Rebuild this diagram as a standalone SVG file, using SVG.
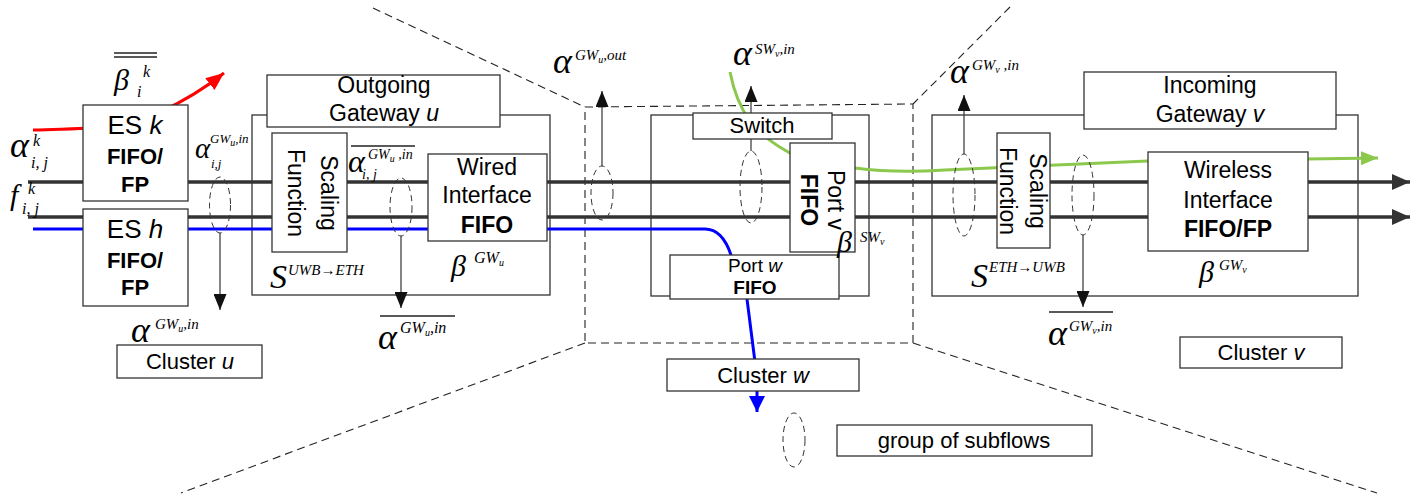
<svg xmlns="http://www.w3.org/2000/svg" width="1428" height="498" viewBox="0 0 1428 498">
<style>
.bg{fill:#fff}
.box{fill:#fff;stroke:#333;stroke-width:1.3}
.obox{fill:none;stroke:#333;stroke-width:1.3}
.region{fill:none;stroke:#222;stroke-width:1.1;stroke-dasharray:8,5}
.ell{fill:none;stroke:#333;stroke-width:1;stroke-dasharray:6,4}
.flow{fill:none;stroke:#333;stroke-width:3.5}
.blue{fill:none;stroke:#0000ff;stroke-width:3}
.green{fill:none;stroke:#8cc84b;stroke-width:3}
.red{fill:none;stroke:#ff0000;stroke-width:3}
.thin{fill:none;stroke:#333;stroke-width:1.2}
.bar{stroke:#222;stroke-width:1.4}
.t{font-family:"Liberation Sans",Arial,sans-serif;fill:#000;text-anchor:middle}
.s23{font-size:23px}
.s22{font-size:22px}
.s19{font-size:19px}
.s26{font-size:26px}
.b{font-weight:bold}
.it{font-style:italic}
.m{font-family:"Liberation Serif","Times New Roman",serif;font-style:italic;fill:#000}
.a36{font-size:36px}
.a32{font-size:32px}
.a29{font-size:29px}
.m34{font-size:34px}
.m30{font-size:30px}
.m16{font-size:16px}
.m15{font-size:15px}
.m14{font-size:14px}
.m13{font-size:13px}
.m10{font-size:10px}
</style>
<defs>
<marker id="ah" markerUnits="userSpaceOnUse" markerWidth="16" markerHeight="13" refX="16" refY="6.5" orient="auto"><path d="M0,0 L16,6.5 L0,13 z" fill="#111"/></marker>
<marker id="ahf" markerUnits="userSpaceOnUse" markerWidth="18" markerHeight="16" refX="18" refY="8" orient="auto"><path d="M0,0 L18,8 L0,16 z" fill="#333"/></marker>
<marker id="ahr" markerUnits="userSpaceOnUse" markerWidth="18" markerHeight="15" refX="18" refY="7.5" orient="auto"><path d="M0,0 L18,7.5 L0,15 z" fill="#ff0000"/></marker>
<marker id="ahg" markerUnits="userSpaceOnUse" markerWidth="17" markerHeight="14" refX="17" refY="7" orient="auto"><path d="M0,0 L17,7 L0,14 z" fill="#8cc84b"/></marker>
<marker id="ahb" markerUnits="userSpaceOnUse" markerWidth="16" markerHeight="16" refX="16" refY="8" orient="auto"><path d="M0,0 L16,8 L0,16 z" fill="#0000ff"/></marker>
</defs>
<rect class="bg" x="0" y="0" width="1428" height="498"/>

<g id="region">
<path class="region" d="M373,8 L585,107 M1010,7 L913,104 M585,107 L913,104 L913,343 L585,343 Z M585,343 L181,493 M913,343 L1377,493"/>
</g>

<g id="outer-boxes">
<rect class="obox" x="252" y="115" width="298" height="180"/>
<rect class="obox" x="651" y="115" width="218" height="181"/>
<rect class="obox" x="932" y="115" width="426" height="181"/>
</g>

<g id="connectors">
<path class="flow" d="M28,182 L1410,182" marker-end="url(#ahf)"/>
<path class="flow" d="M28,217 L1410,217" marker-end="url(#ahf)"/>
<path class="blue" d="M33,229 L705,229 C718,229 726,240 731,255 L747,299 L755,362"/>
<path class="blue" d="M757,391 L757,412" marker-end="url(#ahb)"/>
<path class="green" d="M730,72 C737,108 752,136 800,158 L855,168 C885,172 915,172 945,170 L1148,161 L1378,158" marker-end="url(#ahg)"/>
<path class="red" d="M33,130 C60,129 78,129 90,128 L160,112 C180,103 205,88 224,73" marker-end="url(#ahr)"/>
<path class="thin" d="M220,233 L220,310" marker-end="url(#ah)"/>
<path class="thin" d="M401,236 L401,308" marker-end="url(#ah)"/>
<path class="thin" d="M602,166 L602,91" marker-end="url(#ah)"/>
<path class="thin" d="M751,151 L751,86" marker-end="url(#ah)"/>
<path class="thin" d="M964,154 L964,95" marker-end="url(#ah)"/>
<path class="thin" d="M1083,235 L1083,307" marker-end="url(#ah)"/>
<ellipse class="ell" cx="220" cy="205" rx="10.5" ry="28"/>
<ellipse class="ell" cx="401" cy="207" rx="11" ry="29"/>
<ellipse class="ell" cx="602" cy="193" rx="11" ry="27"/>
<ellipse class="ell" cx="751" cy="187" rx="11" ry="36"/>
<ellipse class="ell" cx="964" cy="195" rx="11" ry="41"/>
<ellipse class="ell" cx="1083" cy="195" rx="11" ry="40"/>
</g>

<g id="es-k">
<rect class="box" x="83" y="105" width="105" height="96"/>
<text class="t s26" x="135" y="134">ES <tspan class="it">k</tspan></text>
<text class="t s22 b" x="135" y="164">FIFO/</text>
<text class="t s22 b" x="135" y="192">FP</text>
</g>
<g id="es-h">
<rect class="box" x="83" y="209" width="105" height="97"/>
<text class="t s26" x="135" y="238">ES <tspan class="it">h</tspan></text>
<text class="t s22 b" x="135" y="268">FIFO/</text>
<text class="t s22 b" x="135" y="295">FP</text>
</g>

<g id="gateway-u">
<rect class="box" x="267" y="75" width="233" height="52"/>
<text class="t s23" x="384" y="93">Outgoing</text>
<text class="t s23" x="384" y="121">Gateway <tspan class="it">u</tspan></text>
</g>
<g id="scaling-u">
<rect class="box" x="272" y="133" width="75" height="119"/>
<text class="t s23" transform="translate(321,193) rotate(90)">Scaling</text>
<text class="t s23" transform="translate(288,193) rotate(90)">Function</text>
</g>
<g id="wired-u">
<rect class="box" x="428" y="154" width="119" height="87"/>
<text class="t s23" x="487" y="175">Wired</text>
<text class="t s23" x="487" y="203">Interface</text>
<text class="t s23 b" x="487" y="233">FIFO</text>
</g>

<g id="switch">
<rect class="box" x="693" y="113" width="139" height="26"/>
<text class="t s22" x="762" y="133">Switch</text>
</g>
<g id="port-v">
<rect class="box" x="790" y="143" width="65" height="109"/>
<text class="t s23" transform="translate(828,200) rotate(90)">Port v</text>
<text class="t s23 b" transform="translate(801,200) rotate(90)">FIFO</text>
</g>
<g id="port-w">
<rect class="box" x="670" y="255" width="169" height="44"/>
<text class="t s19" x="755" y="272">Port <tspan class="it">w</tspan></text>
<text class="t s19 b" x="755" y="294">FIFO</text>
</g>

<g id="gateway-v">
<rect class="box" x="1084" y="72" width="252" height="57"/>
<text class="t s23" x="1210" y="93">Incoming</text>
<text class="t s23" x="1210" y="122">Gateway <tspan class="it">v</tspan></text>
</g>
<g id="scaling-v">
<rect class="box" x="997" y="133" width="53" height="115"/>
<text class="t s23" transform="translate(1030,191) rotate(90)">Scaling</text>
<text class="t s23" transform="translate(1000,191) rotate(90)">Function</text>
</g>
<g id="wireless-v">
<rect class="box" x="1148" y="152" width="160" height="99"/>
<text class="t s23" x="1228" y="178">Wireless</text>
<text class="t s23" x="1228" y="208">Interface</text>
<text class="t s23 b" x="1228" y="237">FIFO/FP</text>
</g>

<g id="cluster-u">
<rect class="box" x="117" y="345" width="145" height="33"/>
<text class="t s22" x="190" y="369">Cluster <tspan class="it">u</tspan></text>
</g>
<g id="cluster-w">
<rect class="box" x="667" y="359" width="192" height="32"/>
<text class="t s22" x="763" y="383">Cluster <tspan class="it">w</tspan></text>
</g>
<g id="cluster-v">
<rect class="box" x="1180" y="337" width="162" height="31"/>
<text class="t s22" x="1261" y="360">Cluster <tspan class="it">v</tspan></text>
</g>

<g id="legend">
<ellipse class="ell" cx="794" cy="440" rx="11" ry="27"/>
<rect class="box" x="837" y="425" width="255" height="31"/>
<text class="t s22" x="964" y="448">group of subflows</text>
</g>

<g id="labels">
<!-- alpha_{i,j}^k -->
<text class="m a36" x="10" y="157">α</text>
<text class="m m16" x="33" y="146">k</text>
<text class="m m16" x="31" y="168">i, j</text>
<!-- f_{i,j}^k -->
<text class="m m30" x="10" y="205">f</text>
<text class="m m16" x="28" y="194">k</text>
<text class="m m16" x="22" y="214">i, j</text>
<!-- beta_i^k double bar -->
<line class="bar" x1="114" y1="53" x2="157" y2="53"/>
<line class="bar" x1="114" y1="57" x2="157" y2="57"/>
<text class="m m30" x="114" y="90">β</text>
<text class="m m16" x="143" y="77">k</text>
<text class="m m16" x="137" y="97">i</text>
<!-- alpha_{i,j}^{GWu,in} -->
<text class="m a29" x="195" y="158">α</text>
<text class="m m13" x="210" y="143">GW<tspan class="m10" dy="3">u</tspan><tspan dy="-3">,in</tspan></text>
<text class="m m13" x="211" y="168">i,j</text>
<!-- alpha^{GWu,in} below cluster u arrow -->
<text class="m a36" x="131" y="342">α</text>
<text class="m m15" x="155" y="329">GW<tspan class="m10" dy="3">u</tspan><tspan dy="-3">,in</tspan></text>
<!-- S^{UWB->ETH} -->
<text class="m m34" x="270" y="288">S</text>
<text class="m m15" x="288" y="275">UWB→ETH</text>
<!-- overline alpha_{i,j}^{GWu,in} -->
<line class="bar" x1="351" y1="146" x2="415" y2="146"/>
<text class="m a32" x="348" y="172">α</text>
<text class="m m14" x="368" y="159">GW<tspan class="m10" dy="3">u</tspan><tspan dy="-3"> ,in</tspan></text>
<text class="m m14" x="362" y="179">i, j</text>
<!-- beta^{GWu} -->
<text class="m m30" x="451" y="276">β</text>
<text class="m m16" x="474" y="263">GW<tspan class="m10" dy="3">u</tspan></text>
<!-- overline alpha^{GWu,in} -->
<line class="bar" x1="380" y1="316" x2="455" y2="316"/>
<text class="m a36" x="378" y="349">α</text>
<text class="m m16" x="400" y="333">GW<tspan class="m10" dy="3">u</tspan><tspan dy="-3">,in</tspan></text>
<!-- alpha^{GWu,out} -->
<text class="m a36" x="553" y="73">α</text>
<text class="m m15" x="575" y="60">GW<tspan class="m10" dy="3">u</tspan><tspan dy="-3">,out</tspan></text>
<!-- alpha^{SWv,in} -->
<text class="m a36" x="733" y="65">α</text>
<text class="m m15" x="755" y="54">SW<tspan class="m10" dy="3">v</tspan><tspan dy="-3">,in</tspan></text>
<!-- beta^{SWv} -->
<text class="m m30" x="837" y="252">β</text>
<text class="m m15" x="860" y="242">SW<tspan class="m10" dy="3">v</tspan></text>
<!-- alpha^{GWv,in} top -->
<text class="m a36" x="950" y="83">α</text>
<text class="m m15" x="972" y="70">GW<tspan class="m10" dy="3">v</tspan><tspan dy="-3"> ,in</tspan></text>
<!-- S^{ETH->UWB} -->
<text class="m m34" x="971" y="287">S</text>
<text class="m m15" x="989" y="272">ETH→UWB</text>
<!-- beta^{GWv} -->
<text class="m m30" x="1199" y="282">β</text>
<text class="m m15" x="1219" y="270">GW<tspan class="m10" dy="3">v</tspan></text>
<!-- overline alpha^{GWv,in} -->
<line class="bar" x1="1049" y1="312" x2="1113" y2="312"/>
<text class="m a36" x="1048" y="345">α</text>
<text class="m m15" x="1069" y="331">GW<tspan class="m10" dy="3">v</tspan><tspan dy="-3">,in</tspan></text>
</g>
</svg>
